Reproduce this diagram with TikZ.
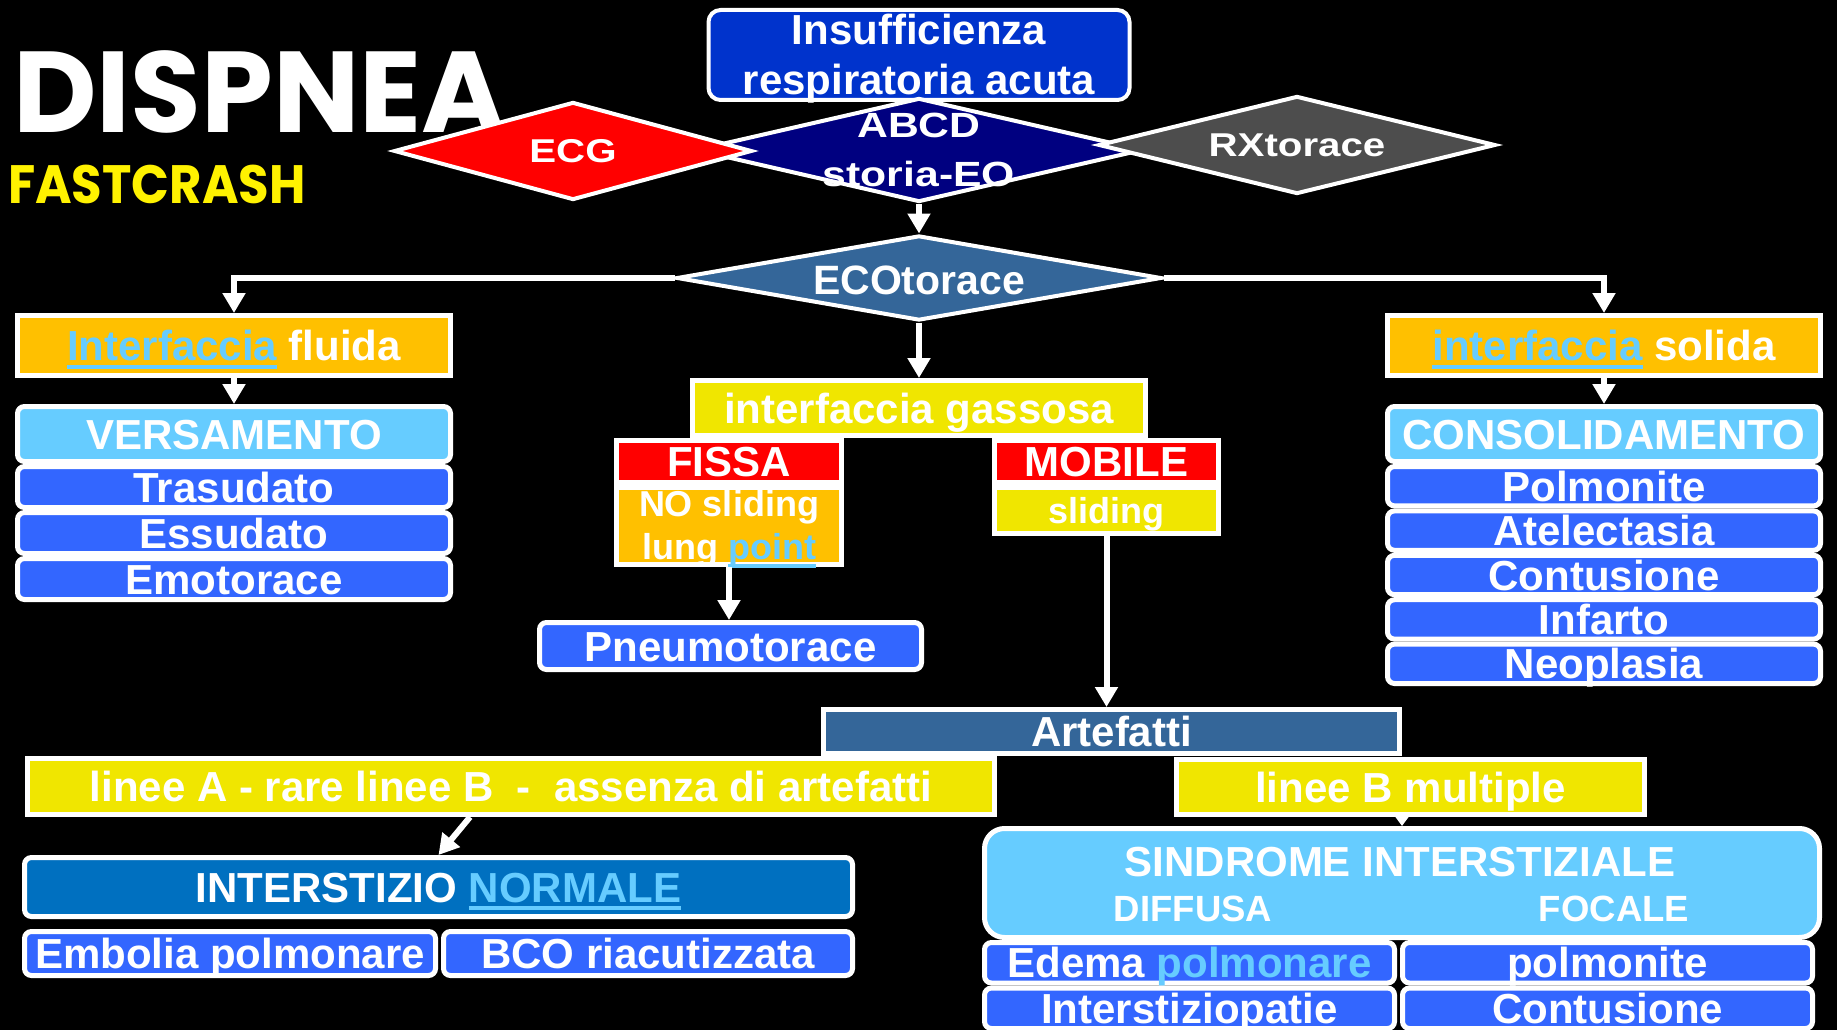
\documentclass[tikz,border=0pt]{standalone}
\usepackage{fontspec}
\setmainfont{Liberation Sans}
\newfontfamily\titlefont{Poppins}
\newfontfamily\subtitlefont{Poppins}[FakeStretch=0.92]
\newfontfamily\widefont{Liberation Sans}[FakeStretch=1.22]
\usepackage{xcolor}
\usepackage{tikz}
\usetikzlibrary{shapes.geometric}
\usetikzlibrary{arrows.meta}
\usetikzlibrary{positioning}
\definecolor{insblue}{RGB}{0,51,204}
\definecolor{abcdnavy}{RGB}{0,0,128}
\definecolor{rxgrey}{RGB}{77,77,77}
\definecolor{ecoblue}{RGB}{52,102,153}
\definecolor{orangebox}{RGB}{255,192,0}
\definecolor{yellowbox}{RGB}{240,230,0}
\definecolor{lightbox}{RGB}{102,204,255}
\definecolor{bluebox}{RGB}{51,102,255}
\definecolor{normblue}{RGB}{0,112,192}
\definecolor{linkblue}{RGB}{102,204,255}
\newcommand\fbig{\fontsize{42}{50}\selectfont\bfseries}
\newcommand\fmid{\fontsize{36}{43}\selectfont\bfseries}
\newcommand\lnk[1]{\textcolor{linkblue}{\setbox0\hbox{#1}\rlap{\rule[-8pt]{\wd0}{4pt}}\box0}}
\tikzset{%
  txt/.style={text=white,font=\fbig,text height=30pt,text depth=0pt,inner sep=0pt},
  txtml/.style={text=white,font=\fbig,align=center,inner sep=0pt},
  boxsq/.style={rectangle,draw=white,line width=5pt,txt},
  boxrd/.style={boxsq,rounded corners=7pt},
  dmd/.style={diamond,draw=white,line width=4pt,inner sep=0pt},
  link/.style={draw=white,line width=6pt,-{Triangle[width=22pt,length=20pt]}}
}
\tikzset{%
  leftcol/.style={boxrd,fill=bluebox,minimum width=433pt,minimum height=41pt},
  rightcol/.style={boxrd,fill=bluebox,minimum width=433pt,minimum height=39.4pt},
  sindcol/.style={boxrd,fill=bluebox,minimum width=410pt,minimum height=40.5pt}
}
\begin{document}
\begin{tikzpicture}[x=1pt,y=-1pt,node distance=0pt]
\fill[black] (0,0) rectangle (1837,1030);
\useasboundingbox (0,0) rectangle (1837,1030);

% titolo
\node[anchor=base west,inner sep=0pt,text=white,font={\titlefont\bfseries\fontsize{115}{120}\selectfont}] (title) at (13,133) {DISPNEA};
\node[anchor=base west,inner sep=0pt,text=yellow,font={\subtitlefont\bfseries\fontsize{54}{60}\selectfont}] (subtitle) at (8,203) {FASTCRASH};

% valutazione iniziale
\node[boxrd,draw=white,line width=4pt,fill=insblue,rounded corners=12pt,minimum width=421pt,minimum height=90pt] (ins) at (919,55) {};
\node[dmd,fill=abcdnavy,minimum width=448pt,minimum height=104pt] (abcd) at (919,150) {};
\node[dmd,fill=red,minimum width=358pt,minimum height=98pt] (ecg) at (573,151) {};
\node[dmd,fill=rxgrey,minimum width=397pt,minimum height=98pt] (rx) at (1297,145) {};
\node[txtml] (inst) at (919,59) {Insufficienza\\respiratoria acuta};
\node[txtml,font={\widefont\bfseries\fontsize{35}{49}\selectfont}] (abcdt) at (919,150) {ABCD\\storia-EO};
\node[txt,font={\widefont\bfseries\fontsize{33}{40}\selectfont},text height=23pt] (ecgt) at (ecg) {ECG};
\node[txt,font={\widefont\bfseries\fontsize{33}{40}\selectfont},text height=23pt] (rxt) at (rx) {RXtorace};

\node[dmd,fill=ecoblue,minimum width=485pt,minimum height=85pt] (eco) at (919,278) {};
\node[txt,font={\fontsize{41}{48}\selectfont\bfseries},text height=29pt] (ecot) at (919,279.5) {ECOtorace};

% interfaccia fluida
\node[boxsq,fill=orangebox,minimum width=433pt,minimum height=60pt] (fluida) at (234,345.5) {\lnk{Interfaccia} fluida};
\node[boxrd,fill=lightbox,minimum width=433pt,minimum height=55pt] (vers) at (234,434) {VERSAMENTO};
\node[leftcol,below=of vers] (tras) {Trasudato};
\node[leftcol,below=of tras] (ess) {Essudato};
\node[leftcol,below=of ess] (emo) {Emotorace};

% interfaccia solida
\node[boxsq,fill=orangebox,minimum width=433pt,minimum height=60pt] (solida) at (1604,345.5) {\lnk{interfaccia} solida};
\node[boxrd,fill=lightbox,minimum width=433pt,minimum height=55pt] (cons) at (1604,434) {CONSOLIDAMENTO};
\node[rightcol,below=of cons] (polm) {Polmonite};
\node[rightcol,below=of polm] (atel) {Atelectasia};
\node[rightcol,below=of atel] (cont) {Contusione};
\node[rightcol,below=of cont] (inf) {Infarto};
\node[rightcol,below=of inf] (neo) {Neoplasia};

% interfaccia gassosa
\node[boxsq,fill=yellowbox,minimum width=453pt,minimum height=55pt] (gas) at (919,408) {interfaccia gassosa};
\node[boxsq,fill=red,minimum width=225pt,minimum height=42pt] (fissa) at (729,461.5) {FISSA};
\node[boxsq,fill=orangebox,minimum width=225pt,minimum height=77pt,below=of fissa] (fissalo) {};
\node[txtml,font=\fmid] (fissat) at (729,529) {NO sliding\\lung \lnk{point}};
\node[boxsq,fill=red,minimum width=224pt,minimum height=42pt] (mobile) at (1106.5,461.5) {MOBILE};
\node[boxsq,fill=yellowbox,minimum width=224pt,minimum height=46pt,font=\fmid,text height=26pt,below=of mobile] (slid) {sliding};
\node[boxrd,fill=bluebox,minimum width=382pt,minimum height=47pt] (pneumo) at (730.5,646) {Pneumotorace};

% artefatti
\node[boxsq,fill=ecoblue,minimum width=576pt,minimum height=44pt] (artef) at (1111.5,731.5) {Artefatti};
\node[boxsq,fill=yellowbox,minimum width=967pt,minimum height=56pt] (lineea) at (511,786.5) {linee A - rare linee B \ - \ assenza di artefatti};
\node[boxsq,fill=yellowbox,minimum width=468pt,minimum height=55pt] (lineeb) at (1410.5,787) {linee B multiple};

\node[boxrd,fill=normblue,minimum width=828pt,minimum height=59pt] (inter) at (438.5,887) {INTERSTIZIO \lnk{NORMALE}};
\node[boxrd,fill=bluebox,minimum width=411pt,minimum height=44pt] (embo) at (230,953.5) {Embolia polmonare};
\node[boxrd,fill=bluebox,minimum width=409pt,minimum height=44pt] (bco) at (648,953.5) {BCO riacutizzata};

\node[boxrd,rounded corners=20pt,fill=lightbox,minimum width=835pt,minimum height=109pt] (sind) at (1402,883) {};
\node[txt] (sindt) at (1400,861.5) {SINDROME INTERSTIZIALE};
\node[txt,font={\fontsize{36.5}{43}\selectfont\bfseries},text height=26pt] (diff) at (1193,908) {DIFFUSA};
\node[txt,font={\fontsize{36.5}{43}\selectfont\bfseries},text height=26pt] (foc) at (1614,908) {FOCALE};
\node[sindcol] (edema) at (1189.5,962.75) {Edema \textcolor{linkblue}{polmonare}};
\node[sindcol,below=of edema] (inters) {Interstiziopatie};
\node[sindcol] (polmo) at (1607.5,962.75) {polmonite};
\node[sindcol,below=of polmo] (contu) {Contusione};

% frecce
\draw[link] (abcd.south) -- (eco.north);
\draw[link] (eco.west) -| (fluida.north);
\draw[link] (eco.east) -| (solida.north);
\draw[link] (eco.south) -- (gas.north);
\draw[link] (fluida.south) -- (vers.north);
\draw[link] (solida.south) -- (cons.north);
\draw[link] (fissalo.south) -- (fissalo.south |- pneumo.north);
\draw[link] (slid.south) -- (slid.south |- artef.north);
\draw[link] ([xshift=-41pt]lineea.south) -- (inter.north);
\draw[link,-{Triangle[width=14pt,length=10pt]}] (sind.north |- lineeb.south) -- (sind.north);
\end{tikzpicture}
\end{document}
